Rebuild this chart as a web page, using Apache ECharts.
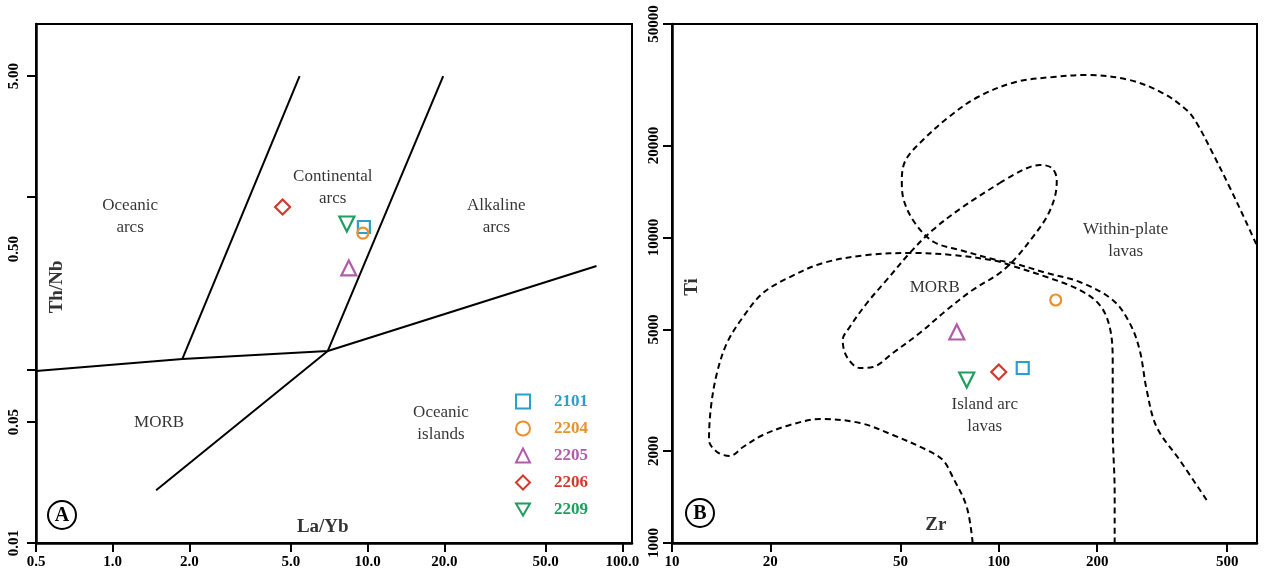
<!DOCTYPE html>
<html><head><meta charset="utf-8">
<script src="https://cdn.jsdelivr.net/npm/echarts@6/dist/echarts.min.js"></script>
<style>html,body{margin:0;padding:0;background:#fff}#c{width:1264px;height:575px}</style>
</head><body><div id="c"></div>
<script>
// ---------- samples ----------
const sampleNames = ['2101', '2204', '2205', '2206', '2209'];
const sampleColors = ['#2a9fca', '#e8922e', '#b05ca8', '#d03a2c', '#1e9e60'];
const sampleSymbols = ['rect', 'circle', 'triangle', 'diamond', 'triangle'];
const sampleRotate = [0, 0, 0, 0, 180];
const sampleSizes = [12, 11, 15, 15, 15];
const legendIcons = ['rect', 'circle', 'triangle', 'diamond', 'path://M0,0L12,0L6,10.4Z'];

// Panel A: Th/Nb vs La/Yb
const laYb = [9.67, 9.58, 8.44, 4.64, 8.29];
const thNb = [0.671, 0.619, 0.389, 0.875, 0.698];
// Panel B: Ti vs Zr
const zr = [118.4, 149.4, 74.4, 100.0, 79.8];
const ti = [3740, 6244, 4905, 3628, 3417];

// ---------- tick values ----------
const aXTicks = [0.5, 1, 2, 5, 10, 20, 50, 100];
const aYLabels = [0.01, 0.05, 0.5, 5];
const aYTicks = [0.01, 0.05, 0.1, 1, 5];
const bXTicks = [10, 20, 50, 100, 200, 500];
const bYTicks = [1000, 2000, 5000, 10000, 20000, 50000];

// ---------- Panel A boundaries (solid) ----------
const aLineBase = [[0.5, 0.0987], [1.876, 0.1158], [6.98, 0.1288], [79.1, 0.399]];
const aLineOceanicArc = [[1.876, 0.1158], [5.41, 5.0]];
const aLineContinental = [[6.98, 0.1288], [19.8, 5.0]];
const aLineMorb = [[1.48, 0.0202], [6.98, 0.1288]];

// ---------- Panel B boundaries (dashed) ----------
const bIslandArc = [[83.2,1000],[79.8,1312],[72.3,1644],[67.4,1870],[60.2,2016],[47.4,2257],[37.6,2471],[28.4,2546],[22.96,2434],[18.98,2257],[16.5,2062],[15.04,1927],[13.73,1986],[12.98,2174],[13.16,2788],[13.73,3601],[14.73,4515],[16.5,5493],[18.98,6581],[22.96,7424],[28.96,8251],[39.5,8764],[54.6,8898],[72.3,8764],[98.6,8377],[110.4,8066],[140.2,7424],[176.9,6733],[203.7,6012],[218.5,5094],[223.2,3972],[223.2,2397],[226.3,1458],[226.3,1000]];
const bWithinPlate = [[432.6,1383],[357.7,1870],[304.2,2397],[283.6,3168],[269.9,4282],[251.5,5250],[223.2,6244],[176.9,7153],[140.2,7653],[110.4,8251],[98.6,8441],[76.0,9101],[63.3,9667],[55.4,11156],[51.2,13266],[50.5,15427],[51.9,17936],[58.6,20852],[70.3,24800],[86.3,28840],[112.7,32285],[146.3,33526],[185.8,34032],[251.5,32775],[317.3,29717],[375.7,26150],[403.3,23706],[451.2,18911],[508.6,14635],[573.3,11156],[615.2,9452]];
const bMorb = [[100.7,15082],[118.4,16634],[133.5,17275],[145.3,16889],[150.5,15427],[148.4,13570],[140.2,11670],[127.1,10037],[113.5,8636],[100.7,7653],[83.2,6733],[69.3,5790],[57.3,4868],[47.4,4188],[41.2,3768],[37.6,3740],[34.3,4063],[33.3,4617],[35.0,5094],[39.5,6104],[45.4,7262],[53.4,8898],[62.8,10581],[77.6,12585],[100.7,15082]];

// ---------- annotations (text, x, y) ----------
const aFieldText = ['Oceanic\narcs', 'Continental\narcs', 'Alkaline\narcs', 'MORB', 'Oceanic\nislands'];
const aFieldX = [1.17, 7.3, 32.0, 1.52, 19.4];
const aFieldY = [0.766, 1.14, 0.766, 0.0494, 0.0488];
const aAxisText = ['La/Yb', 'Th/Nb'];
const aAxisX = [6.67, 0.605];
const aAxisY = [0.01237, 0.302];
const bFieldText = ['MORB', 'Within-plate\nlavas', 'Island arc\nlavas'];
const bFieldX = [63.7, 244.6, 90.6];
const bFieldY = [6834, 9739, 2604];
const bAxisText = ['Zr', 'Ti'];
const bAxisX = [64.2, 11.5];
const bAxisY = [1145, 6887];

const SERIF = '"Liberation Serif", "DejaVu Serif", serif';

function logAxis(gridIndex, min, max, labels, ticks, fmt, isY, margin) {
  return {
    type: 'log', logBase: 10, gridIndex, min, max,
    splitLine: { show: false }, minorTick: { show: false },
    axisLine: { show: true, onZero: false, lineStyle: { color: '#000', width: 2.5 } },
    axisTick: { show: true, inside: false, length: 9, lineStyle: { color: '#000', width: 2 }, customValues: ticks },
    axisLabel: {
      show: true, customValues: labels, formatter: fmt, rotate: isY ? 90 : 0,
      fontFamily: SERIF, fontWeight: 'bold', fontSize: 15, color: '#000', margin,
      hideOverlap: false, showMinLabel: true, showMaxLabel: true
    }
  };
}

function sampleSeries(xIdx, xs, ys) {
  return sampleNames.map((n, i) => ({
    name: n, type: 'scatter', xAxisIndex: xIdx, yAxisIndex: xIdx,
    symbol: sampleSymbols[i], symbolRotate: sampleRotate[i], symbolSize: sampleSizes[i],
    itemStyle: { color: 'rgba(255,255,255,0)', borderColor: sampleColors[i], borderWidth: 2.2, opacity: 1 },
    data: [[xs[i], ys[i]]], z: 5
  }));
}

function lineSeries(xIdx, pts, dashed) {
  return {
    type: 'line', xAxisIndex: xIdx, yAxisIndex: xIdx, data: pts,
    showSymbol: false, symbol: 'none', smooth: dashed ? 0.35 : false, silent: true,
    lineStyle: { color: '#000', width: 2, type: dashed ? [6, 4] : 'solid' },
    z: 3
  };
}

function textSeries(xIdx, texts, xs, ys, bold, rotIdx) {
  return {
    type: 'scatter', xAxisIndex: xIdx, yAxisIndex: xIdx, silent: true,
    symbol: 'circle', symbolSize: 1, itemStyle: { color: 'rgba(0,0,0,0)' },
    label: {
      show: true, position: 'inside', color: '#000', textBorderWidth: 0, fontFamily: SERIF,
      fontSize: bold ? 19 : 17, fontWeight: bold ? 'bold' : 'normal', lineHeight: 22,
      formatter: p => p.data.t
    },
    data: texts.map((t, i) => ({ value: [xs[i], ys[i]], t, label: { rotate: i === rotIdx ? 90 : 0 } })),
    z: 6
  };
}

const chart = echarts.init(document.getElementById('c'), null, { renderer: 'canvas' });
const option = {
  animation: false,
  backgroundColor: '#fff',
  grid: [
    { left: 36, top: 24, width: 596, height: 519, show: true, borderColor: '#000', borderWidth: 2, outerBoundsMode: 'none', containLabel: false },
    { left: 672, top: 24, width: 585, height: 519, show: true, borderColor: '#000', borderWidth: 2, outerBoundsMode: 'none', containLabel: false }
  ],
  xAxis: [
    logAxis(0, 0.5, 109, aXTicks, aXTicks, v => (+v).toFixed(1), false, 12),
    logAxis(1, 10, 617, bXTicks, bXTicks, v => String(Math.round(v)), false, 12)
  ],
  yAxis: [
    logAxis(0, 0.01, 10, aYLabels, aYTicks, v => (+v).toFixed(2), true, 14),
    logAxis(1, 1000, 50000, bYTicks, bYTicks, v => String(Math.round(v)), true, 10)
  ],
  legend: {
    orient: 'vertical', left: 510, top: 388, itemWidth: 14, itemHeight: 14, itemGap: 10,
    selectedMode: false, symbolKeepAspect: true,
    textStyle: { fontFamily: SERIF, fontWeight: 'bold', fontSize: 17, padding: [0, 0, 0, 19] },
    data: sampleNames.map((n, i) => ({ name: n, icon: legendIcons[i], textStyle: { color: sampleColors[i] } }))
  },
  graphic: [
    { type: 'circle', shape: { cx: 62, cy: 515, r: 14 }, style: { fill: 'none', stroke: '#000', lineWidth: 2 } },
    { type: 'text', x: 62, y: 516, style: { text: 'A', font: 'bold 20px "Liberation Serif"', fill: '#000', align: 'center', verticalAlign: 'middle' } },
    { type: 'circle', shape: { cx: 700, cy: 513, r: 14 }, style: { fill: 'none', stroke: '#000', lineWidth: 2 } },
    { type: 'text', x: 700, y: 514, style: { text: 'B', font: 'bold 20px "Liberation Serif"', fill: '#000', align: 'center', verticalAlign: 'middle' } }
  ],
  series: [
    lineSeries(0, aLineBase, false),
    lineSeries(0, aLineOceanicArc, false),
    lineSeries(0, aLineContinental, false),
    lineSeries(0, aLineMorb, false),
    lineSeries(1, bIslandArc, true),
    lineSeries(1, bWithinPlate, true),
    lineSeries(1, bMorb, true),
    textSeries(0, aFieldText, aFieldX, aFieldY, false, -1),
    textSeries(0, aAxisText, aAxisX, aAxisY, true, 1),
    textSeries(1, bFieldText, bFieldX, bFieldY, false, -1),
    textSeries(1, bAxisText, bAxisX, bAxisY, true, 1),
    ...sampleSeries(0, laYb, thNb),
    ...sampleSeries(1, zr, ti)
  ]
};
chart.setOption(option);
</script>
</body></html>
